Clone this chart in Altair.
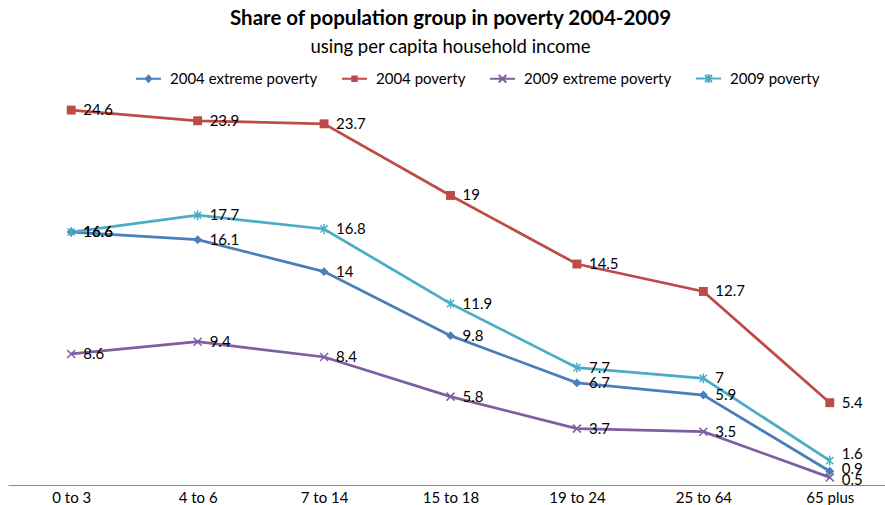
import altair as alt
import pandas as pd

categories = ["0 to 3", "4 to 6", "7 to 14", "15 to 18", "19 to 24", "25 to 64", "65 plus"]
series_names = ["2004 extreme poverty", "2004 poverty", "2009 extreme poverty", "2009 poverty"]
extreme_2004 = [16.6, 16.1, 14, 9.8, 6.7, 5.9, 0.9]
poverty_2004 = [24.6, 23.9, 23.7, 19, 14.5, 12.7, 5.4]
extreme_2009 = [8.6, 9.4, 8.4, 5.8, 3.7, 3.5, 0.5]
poverty_2009 = [16.6, 17.7, 16.8, 11.9, 7.7, 7, 1.6]
colors = ["#4A7EBB", "#BE4B48", "#7D5FA0", "#4BACC6"]

rows = []
for name, vals in zip(series_names, [extreme_2004, poverty_2004, extreme_2009, poverty_2009]):
    for c, v in zip(categories, vals):
        rows.append({"group": c, "series": name, "value": v, "label": f"{v:g}"})
df = pd.DataFrame(rows)

FONT = "Lato"
FS = 15

x_enc = alt.X("group:N", sort=categories,
              scale=alt.Scale(padding=0.5),
              axis=alt.Axis(title=None, labelAngle=0, ticks=False, grid=False,
                            domainColor="#8c8c8c", domainWidth=1,
                            labelFont=FONT, labelFontSize=FS, labelColor="#000",
                            labelPadding=5))
y_enc = alt.Y("value:Q", scale=alt.Scale(domain=[0, 25], nice=False, zero=True), axis=None)
color_nolegend = alt.Color("series:N", scale=alt.Scale(domain=series_names, range=colors), legend=None)

base = alt.Chart(df)

lines = base.mark_line(strokeWidth=2.75).encode(x=x_enc, y=y_enc, color=color_nolegend,
                                                detail="series:N")

x_path = "M-1,-1L1,1M-1,1L1,-1"
ast_path = "M-0.8,-0.8L0.8,0.8M-0.8,0.8L0.8,-0.8M0,-1.1L0,1.1"

pts_diamond = base.transform_filter(alt.datum.series == series_names[0]).mark_point(
    shape="diamond", filled=True, size=80, opacity=1).encode(x=x_enc, y=y_enc, color=color_nolegend)
pts_square = base.transform_filter(alt.datum.series == series_names[1]).mark_point(
    shape="square", filled=True, size=80, opacity=1).encode(x=x_enc, y=y_enc, color=color_nolegend)
pts_x = base.transform_filter(alt.datum.series == series_names[2]).mark_point(
    shape=x_path, filled=False, size=64, strokeWidth=1.5, opacity=1).encode(x=x_enc, y=y_enc, color=color_nolegend)
pts_ast = base.transform_filter(alt.datum.series == series_names[3]).mark_point(
    shape=ast_path, filled=False, size=80, strokeWidth=1.5, opacity=1).encode(x=x_enc, y=y_enc, color=color_nolegend)

# legend-only layer: zero-size points; legend symbols are line + marker paths
legend_paths = [
    "M-2.5,0L2.5,0M0,-0.6L0.55,0L0,0.6L-0.55,0Z",
    "M-2.5,0L2.5,0M-0.45,-0.45L0.45,-0.45L0.45,0.45L-0.45,0.45ZM0,-0.45L0,0.45",
    "M-2.5,0L2.5,0M-0.75,-0.75L0.75,0.75M-0.75,0.75L0.75,-0.75",
    "M-2.5,0L2.5,0M-0.7,-0.7L0.7,0.7M-0.7,0.7L0.7,-0.7M0,-0.9L0,0.9",
]
leg = alt.Legend(title=None, orient="none", legendX=133, legendY=-33, direction="horizontal",
                 symbolSize=100, symbolStrokeWidth=2, labelFont=FONT, labelFontSize=FS,
                 labelColor="#000", labelOffset=14, columnPadding=20)
legend_layer = base.mark_point(filled=False, opacity=1, strokeWidth=2).encode(
    x=x_enc, y=y_enc, size=alt.value(0),
    color=alt.Color("series:N", scale=alt.Scale(domain=series_names, range=colors), legend=leg),
    shape=alt.Shape("series:N", scale=alt.Scale(domain=series_names, range=legend_paths), legend=leg),
)

def is_adj(name):
    return (alt.datum.group == "65 plus") & (alt.datum.series == name)

label_style = dict(align="left", baseline="middle", dx=12, font=FONT, fontSize=FS, color="#000")

labels_main = base.transform_filter(
    ~(is_adj(series_names[0]) | is_adj(series_names[2]) | is_adj(series_names[3]))
).mark_text(**label_style).encode(x=x_enc, y=y_enc, text="label:N")
labels_a = base.transform_filter(is_adj(series_names[0])).mark_text(dy=-2, **label_style).encode(
    x=x_enc, y=y_enc, text="label:N")
labels_b = base.transform_filter(is_adj(series_names[3])).mark_text(dy=-7, **label_style).encode(
    x=x_enc, y=y_enc, text="label:N")
labels_c = base.transform_filter(is_adj(series_names[2])).mark_text(dy=3, **label_style).encode(
    x=x_enc, y=y_enc, text="label:N")

chart = alt.layer(legend_layer, lines, pts_diamond, pts_square, pts_x, pts_ast,
                  labels_main, labels_a, labels_b, labels_c).properties(
    width=885, height=381,
    autosize=alt.AutoSizeParams(type="none"),
    padding={"left": 8, "top": 104, "right": -8, "bottom": 20},
    title=alt.TitleParams(text="Share of population group in poverty 2004-2009",
                          subtitle="using per capita household income",
                          font=FONT, fontSize=20.5, fontWeight="bold", color="#000",
                          subtitleFont=FONT, subtitleFontSize=18.5, subtitleColor="#000",
                          subtitlePadding=8, anchor="middle", offset=15),
).configure(background="white").configure_view(stroke=None)

chart.save("out.html", embed_options={"renderer": "svg", "actions": False})
